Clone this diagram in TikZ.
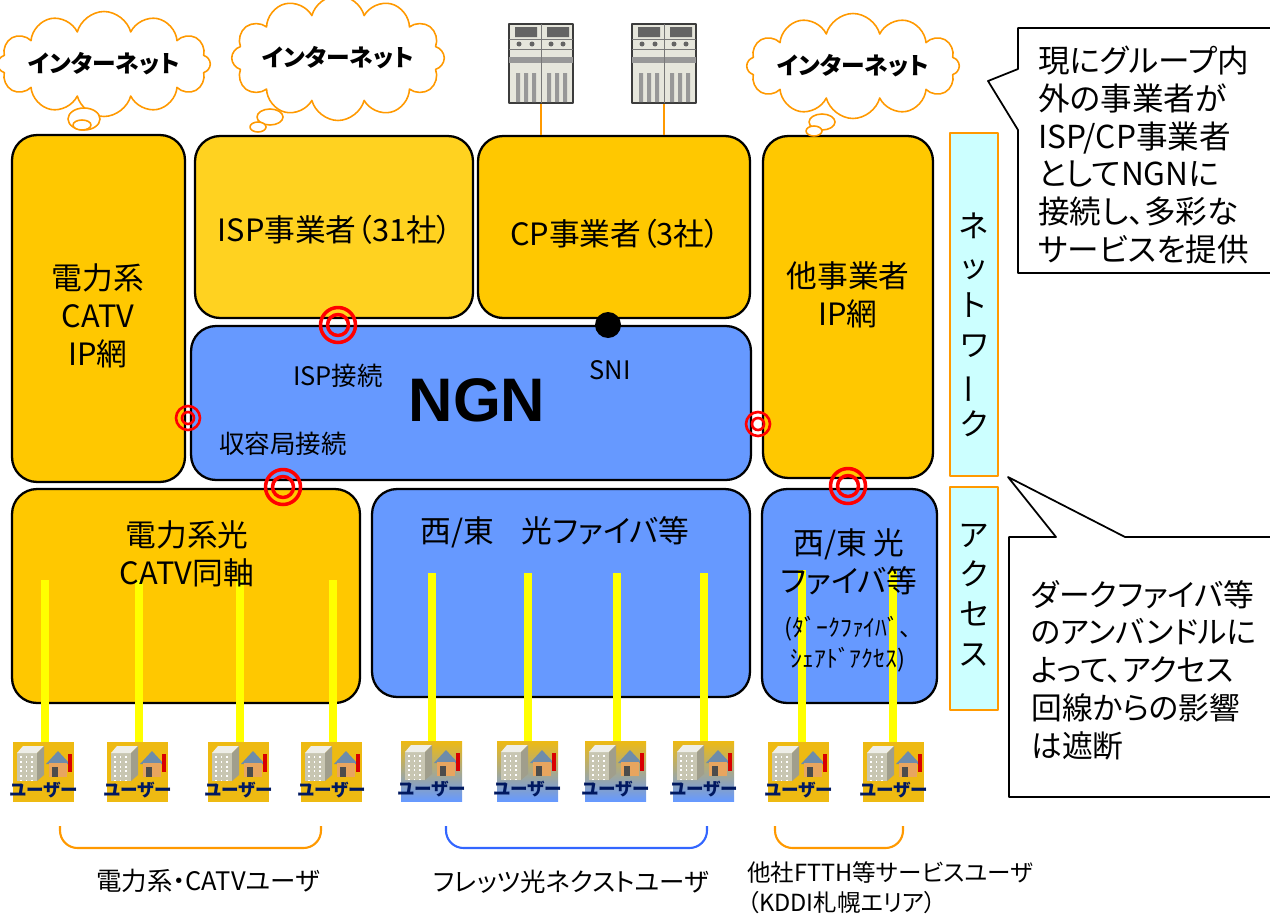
\documentclass[tikz,border=0pt]{standalone}
\usepackage{fontspec}
\usepackage{graphicx}
\setmainfont{Noto Sans CJK JP}[RawFeature={+palt}]
\newfontfamily\ngnfont{Liberation Sans}
\usetikzlibrary{shapes.symbols}

\definecolor{boxyellow}{RGB}{255,200,0}
\definecolor{ispyellow}{RGB}{255,210,32}
\definecolor{ngnblue}{RGB}{102,153,255}
\definecolor{sidecyan}{RGB}{204,255,255}
\definecolor{lineorange}{RGB}{255,153,0}
\definecolor{bracketblue}{RGB}{51,102,255}
\definecolor{fiberyellow}{RGB}{255,255,0}
\definecolor{iconyellow}{RGB}{238,186,18}
\definecolor{usernavy}{RGB}{0,24,96}

% user icon and server rack
\tikzset{
  userbox/.style={rectangle,minimum width=1.22cm,minimum height=1.2cm,inner sep=0pt},
  useryel/.style={fill=iconyellow},
  userblue/.style={top color=iconyellow,middle color={rgb,255:red,215;green,200;blue,190},bottom color=ngnblue},
  usertext/.style={inner sep=0pt,text=usernavy,font=\fontsize{10}{11}\selectfont\bfseries},
  bldfront/.style={fill={rgb,255:red,200;green,198;blue,178}},
  bldtop/.style={fill={rgb,255:red,238;green,238;blue,232}},
  bldside/.style={fill={rgb,255:red,160;green,158;blue,140}},
  bldwin/.style={draw=white,line width=0.8pt,dash pattern=on 1.2pt off 1.5pt},
  roof/.style={fill={rgb,255:red,110;green,140;blue,170}},
  walls/.style={fill={rgb,255:red,232;green,165;blue,95}},
  srvbody/.style={rectangle,draw={rgb,255:red,60;green,60;blue,60},line width=0.6pt,fill={rgb,255:red,230;green,230;blue,220},inner sep=0pt},
  srvedge/.style={draw={rgb,255:red,120;green,120;blue,120},line width=0.5pt},
  srvdark/.style={fill={rgb,255:red,100;green,100;blue,100}},
  srvgray/.style={fill={rgb,255:red,152;green,152;blue,152}}
}

\newcommand{\usericon}[4]{%
  \node[userbox,#4] (#1) at (#2+30.5,#3+30) {};
  \begin{scope}[shift={(#2,#3)}]
    \fill[bldfront] (4,11) rectangle (24,39);
    \fill[bldtop] (4,11) -- (10,4) -- (31,4) -- (24,11) -- cycle;
    \fill[bldside] (24,11) -- (31,4) -- (31,33) -- (24,39) -- cycle;
    \draw[bldwin] (8,14) -- (8,38) (13.5,14) -- (13.5,38) (19,14) -- (19,38);
    \fill[roof] (33,22) -- (45,9) -- (57,22) -- cycle;
    \fill[walls] (36,21) rectangle (54,35);
    \fill[black!70] (39,25) rectangle (45,35);
    \fill[red!85!black] (55,12) rectangle (58.5,30);
    \node[usertext] (#1-txt) at (30.5,48) {ユーザー};
  \end{scope}}

\newcommand{\serverbox}[3]{%
  \node[srvbody,minimum width=1.28cm,minimum height=1.58cm] (#1) at (#2+32,#3+39.5) {};
  \begin{scope}[shift={(#2,#3)}]
    \fill[srvdark] (6,3) rectangle (28,13) (38,3) rectangle (60,13);
    \fill[srvdark] (10,20) circle[radius=0.05cm] (23,20) circle[radius=0.05cm]
      (42,20) circle[radius=0.05cm] (54,20) circle[radius=0.05cm];
    \fill[srvgray] (0,33) rectangle (64,39);
    \fill[srvgray] (7,49) rectangle (11,78) (15,49) rectangle (19,78) (23,49) rectangle (27,78)
      (38,49) rectangle (42,78) (46,49) rectangle (50,78) (54,49) rectangle (58,78);
    \draw[srvedge] (32,0) -- (32,79) (0,15) -- (64,15) (0,25) -- (64,25);
  \end{scope}}

\begin{document}
\begin{tikzpicture}[x=0.02cm,y=-0.02cm,line join=round,
  netbox/.style={rectangle,rounded corners=0.5cm,draw=black,line width=1.3pt,inner sep=0pt},
  boxtext/.style={align=center,inner sep=0pt,font=\fontsize{17.5}{21.5}\selectfont},
  smalltext/.style={align=center,inner sep=0pt,font=\fontsize{13.5}{17.5}\selectfont},
  ngnlbl/.style={inner sep=0pt,font=\fontsize{14.5}{17}\selectfont},
  sidebox/.style={rectangle,draw=lineorange,fill=sidecyan,line width=1pt,inner sep=0pt},
  sidetext/.style={align=center,inner sep=0pt,font=\fontsize{17.5}{22.5}\selectfont},
  inet/.style={cloud,cloud puffs=12,cloud ignores aspect,draw=lineorange,fill=white,line width=0.9pt,inner sep=0pt,font=\fontsize{13.5}{15}\selectfont\bfseries},
  bubble/.style={draw=lineorange,fill=white,line width=0.9pt},
  ring/.style={draw=red,line width=2pt},
  thinring/.style={draw=red,line width=1.5pt},
  fiber/.style={draw=fiberyellow,line width=4.5pt},
  srvline/.style={draw=lineorange,line width=1pt},
  note/.style={draw=black,fill=white,line width=1pt},
  notetext/.style={align=left,inner sep=0pt,anchor=west,font=\fontsize{18}{21.5}\selectfont},
  bracketO/.style={draw=lineorange,line width=1.2pt,rounded corners=0.35cm},
  bracketB/.style={draw=bracketblue,line width=1.2pt,rounded corners=0.35cm},
  grouptext/.style={inner sep=0pt,font=\fontsize{14.5}{17}\selectfont}]
\useasboundingbox (0,0) rectangle (1270,916);
\clip (0,0) rectangle (1270,916);

% network layer
\node[netbox,fill=boxyellow,minimum width=3.46cm,minimum height=6.94cm] (catvnet) at (98.5,308.5) {};
\node[netbox,fill=ispyellow,minimum width=5.56cm,minimum height=3.64cm] (ispnet) at (334,227) {};
\node[netbox,fill=boxyellow,minimum width=5.44cm,minimum height=3.64cm] (cpnet) at (614,227) {};
\node[netbox,fill=boxyellow,minimum width=3.40cm,minimum height=6.84cm] (othernet) at (848,307) {};
\node[netbox,fill=ngnblue,minimum width=11.2cm,minimum height=3.08cm] (ngn) at (471,403) {};

% access layer
\node[netbox,fill=boxyellow,minimum width=6.96cm,minimum height=4.28cm] (catvacc) at (186,596) {};
\node[netbox,fill=ngnblue,minimum width=7.56cm,minimum height=4.16cm] (fiberacc) at (561,593) {};
\node[netbox,fill=ngnblue,minimum width=3.50cm,minimum height=4.28cm] (otheracc) at (849.5,596) {};

% fibre drops to the users
\coordinate (c1) at (45,580);
\coordinate (c2) at (139,580);
\coordinate (c3) at (240,580);
\coordinate (c4) at (333,580);
\coordinate (f1) at (432,573);
\coordinate (f2) at (528,573);
\coordinate (f3) at (617,573);
\coordinate (f4) at (704,573);
\coordinate (o1) at (802,570);
\coordinate (o2) at (893,570);
\usericon{uc1}{13}{742}{useryel}
\usericon{uc2}{107}{742}{useryel}
\usericon{uc3}{208}{742}{useryel}
\usericon{uc4}{301}{742}{useryel}
\usericon{uf1}{401}{741}{userblue}
\usericon{uf2}{497}{741}{userblue}
\usericon{uf3}{585}{741}{userblue}
\usericon{uf4}{673}{741}{userblue}
\usericon{uo1}{768}{742}{useryel}
\usericon{uo2}{863}{742}{useryel}
\draw[fiber] (c1) -- (c1 |- uc1.north);
\draw[fiber] (c2) -- (c2 |- uc2.north);
\draw[fiber] (c3) -- (c3 |- uc3.north);
\draw[fiber] (c4) -- (c4 |- uc4.north);
\draw[fiber] (f1) -- (f1 |- uf1.north);
\draw[fiber] (f2) -- (f2 |- uf2.north);
\draw[fiber] (f3) -- (f3 |- uf3.north);
\draw[fiber] (f4) -- (f4 |- uf4.north);
\draw[fiber] (o1) -- (o1 |- uo1.north);
\draw[fiber] (o2) -- (o2 |- uo2.north);

\node[boxtext] (catvnetlbl) at (98,316) {電力系\\CATV\\IP網};
\node[boxtext] (ispnetlbl) at (335,230) {ISP事業者（31社）};
\node[boxtext] (cpnetlbl) at (615,234) {CP事業者（3社）};
\node[boxtext] (othernetlbl) at (848,295) {他事業者\\IP網};
\node[inner sep=0pt,font=\ngnfont\fontsize{35}{40}\selectfont\bfseries] (ngnlbl) at (477,400) {NGN};
\node[ngnlbl] (ispconn) at (338,376) {ISP接続};
\node[ngnlbl] (sni) at (610,370) {SNI};
\node[ngnlbl] (accconn) at (283,444) {収容局接続};
\node[boxtext] (catvacclbl) at (187,554) {電力系光\\CATV同軸};
\node[boxtext] (fiberacclbl) at (555,532) {西/東\hspace{0.9em}光ファイバ等};
\node[boxtext] (otheracclbl) at (849,562) {西/東 光\\ファイバ等};
\node[smalltext] (otheraccnote) at (848,644) {(ﾀﾞｰｸﾌｧｲﾊﾞ、\\ｼｪｱﾄﾞｱｸｾｽ)};

% layer labels
\node[sidebox,minimum width=0.96cm,minimum height=6.86cm] (netside) at (974,304.5) {};
\node[sidetext] (netsidelbl) at (974,325) {ネ\\ッ\\ト\\ワ\\\rotatebox[origin=c]{90}{ー}\\ク};
\node[sidebox,minimum width=0.96cm,minimum height=4.46cm] (accside) at (974,598.5) {};
\node[sidetext] (accsidelbl) at (974,595) {ア\\ク\\セ\\ス};

% internet clouds
\node[inet,minimum width=3.6cm,minimum height=2.1cm] (inet1) at (104,64) {インターネット};
\draw[bubble] (84,119) ellipse[x radius=0.32cm,y radius=0.22cm];
\draw[bubble] (82,125) ellipse[x radius=0.18cm,y radius=0.1cm];
\node[inet,minimum width=3.6cm,minimum height=2.5cm] (inet2) at (338,58) {インターネット};
\draw[bubble] (270,117) ellipse[x radius=0.26cm,y radius=0.16cm];
\draw[bubble] (258,127) ellipse[x radius=0.16cm,y radius=0.1cm];
\node[inet,minimum width=3.6cm,minimum height=2.1cm] (inet3) at (853,66) {インターネット};
\draw[bubble] (822,122) ellipse[x radius=0.26cm,y radius=0.16cm];
\draw[bubble] (814,131) ellipse[x radius=0.16cm,y radius=0.1cm];

% content servers
\serverbox{srv1}{509}{24}
\serverbox{srv2}{632}{24}
\draw[srvline] (srv1.south) -- (srv1.south |- cpnet.north);
\draw[srvline] (srv2.south) -- (srv2.south |- cpnet.north);

% interconnection points
\draw[ring] (338,325) circle[radius=0.35cm] (338,325) circle[radius=0.21cm];
\draw[ring] (283,487) circle[radius=0.35cm] (283,487) circle[radius=0.21cm];
\draw[ring] (848,486) circle[radius=0.35cm] (848,486) circle[radius=0.21cm];
\draw[thinring] (188,418) circle[radius=0.24cm] (188,418) circle[radius=0.12cm];
\draw[thinring] (758,424) circle[radius=0.24cm] (758,424) circle[radius=0.12cm];
\fill (608,325) circle[radius=0.26cm];

% user groups
\draw[bracketO] (60,826) -- (60,848) -- (321,848) -- (321,826);
\draw[bracketB] (446,826) -- (446,848) -- (707,848) -- (707,826);
\draw[bracketO] (775,826) -- (775,848) -- (903,848) -- (903,826);
\node[grouptext] (catvusers) at (208,881) {電力系・CATVユーザ};
\node[grouptext] (fletsusers) at (571,882) {フレッツ光ネクストユーザ};
\node[grouptext,align=left,anchor=west,font=\fontsize{13.4}{17}\selectfont] (ftthusers) at (747,888) {他社FTTH等サービスユーザ\\（KDDI札幌エリア）};

% callouts
\draw[note] (1018,28) -- (1280,28) -- (1280,273) -- (1018,273) -- (1018,130) -- (988,81) -- (1018,69) -- cycle;
\node[notetext] (netnote) at (1038,155) {現にグループ内\\外の事業者が\\ISP/CP事業者\\としてNGNに\\接続し、多彩な\\サービスを提供};
\draw[note] (1009,537) -- (1056,537) -- (1008,477) -- (1125,537) -- (1280,537) -- (1280,797) -- (1009,797) -- cycle;
\node[notetext,font=\fontsize{17.5}{21.5}\selectfont] (accnote) at (1031,670) {ダークファイバ等\\のアンバンドルに\\よって、アクセス\\回線からの影響\\は遮断};
\end{tikzpicture}
\end{document}
